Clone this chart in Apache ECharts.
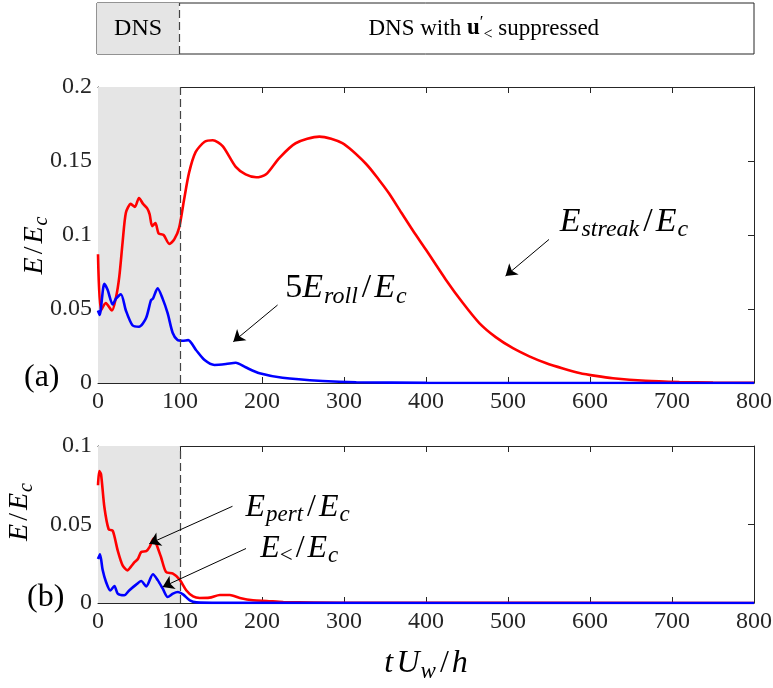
<!DOCTYPE html>
<html>
<head>
<meta charset="utf-8">
<script src="https://cdn.jsdelivr.net/npm/echarts@6/dist/echarts.min.js"></script>
<style>
  html, body { margin: 0; padding: 0; background: #fff; }
  #chart { width: 773px; height: 688px; }
</style>
</head>
<body>
<div id="chart"></div>
<script>
// panel (a): streak energy and 5 x roll energy
const tStreak = [0, 3.5, 9.5, 17, 22, 26, 30, 34, 40, 45, 50, 55, 60, 63, 66, 70, 74, 80, 87, 93, 99, 105, 111, 119, 130, 140, 152, 168, 180, 193, 205, 221, 241, 270, 298, 327, 343, 355, 370, 384, 400, 424, 445, 465, 485, 506, 526, 546, 567, 587, 607, 628, 668, 709, 750, 800]
const streak = [0.087, 0.049, 0.054, 0.049, 0.058, 0.072, 0.095, 0.115, 0.121, 0.119, 0.125, 0.121, 0.118, 0.114, 0.106, 0.108, 0.101, 0.100, 0.094, 0.097, 0.105, 0.124, 0.142, 0.156, 0.163, 0.164, 0.160, 0.146, 0.141, 0.139, 0.141, 0.152, 0.162, 0.1665, 0.162, 0.148, 0.137, 0.128, 0.115, 0.103, 0.090, 0.070, 0.054, 0.0405, 0.031, 0.0235, 0.018, 0.0135, 0.0098, 0.0068, 0.0048, 0.0032, 0.0015, 0.0007, 0.0003, 0.0001]
const tRoll = [0, 2, 7.7, 11.7, 17.9, 21.9, 28, 34, 42, 50, 58.5, 64.6, 67, 72.7, 78.8, 85, 91, 97, 103, 110, 119.5, 130, 142, 156, 168, 180, 197, 225, 274, 315, 400, 500, 800]
const roll = [0.049, 0.046, 0.067, 0.063, 0.053, 0.057, 0.060, 0.049, 0.039, 0.038, 0.0437, 0.056, 0.057, 0.064, 0.057, 0.047, 0.034, 0.029, 0.0285, 0.029, 0.0223, 0.0155, 0.0122, 0.0128, 0.0137, 0.0106, 0.0066, 0.0036, 0.0014, 0.0005, 0.0001, 0, 0]

// panel (b): perturbation energy and small-scale energy
const tPert = [0, 1.6, 3.7, 7.8, 13, 18, 24, 30, 36, 40, 44.5, 48.6, 52.7, 58.8, 63, 67.8, 71, 77, 83, 91.4, 99.6, 107.8, 116, 124, 136, 148.6, 160.8, 173, 189, 205.7, 226, 300, 800]
const pert = [0.075, 0.084, 0.082, 0.061, 0.047, 0.046, 0.0335, 0.024, 0.0208, 0.023, 0.026, 0.028, 0.0325, 0.033, 0.0357, 0.041, 0.0378, 0.029, 0.0197, 0.0187, 0.0149, 0.008, 0.0042, 0.0032, 0.0034, 0.0051, 0.0051, 0.0032, 0.0017, 0.0013, 0.0006, 0.0002, 0]
const tSmall = [0, 2.4, 5.7, 9.8, 15, 20, 24, 32, 38, 46.5, 52.7, 58.8, 67, 73, 79, 85, 91.4, 97.5, 103.7, 112, 120, 150, 800]
const small = [0.028, 0.031, 0.021, 0.0134, 0.008, 0.0108, 0.006, 0.0049, 0.008, 0.0117, 0.014, 0.0106, 0.0183, 0.0144, 0.0091, 0.0038, 0.006, 0.007, 0.0055, 0.0017, 0.0004, 0.0001, 0]

const dnsEnd = 100
const tMax = 800

const serif = "'Liberation Serif', 'DejaVu Serif', serif"
const ink = '#262626'

const xy = (ts, vs) => ts.map((t, i) => [t, vs[i]])

const mathRich = (big, sub) => ({
  i: { fontFamily: serif, fontStyle: 'italic', fontSize: big, color: '#000', lineHeight: big + 6, verticalAlign: 'middle' },
  n: { fontFamily: serif, fontSize: big, color: '#000', lineHeight: big + 6, verticalAlign: 'middle' },
  sl: { fontFamily: serif, fontSize: big, color: '#000', lineHeight: big + 6, verticalAlign: 'middle', padding: [0, 3, 0, 3] },
  s: { fontFamily: serif, fontStyle: 'italic', fontSize: sub, color: '#000', verticalAlign: 'bottom', padding: [0, 1, 0, 1] },
  sn: { fontFamily: serif, fontSize: sub, color: '#000', verticalAlign: 'bottom' }
})

const textMark = (coord, text, size) => ({
  coord,
  value: 0,
  label: { formatter: text, rich: mathRich(size, Math.round(size * 0.72)) }
})

const arrow = (from, to) => [{ coord: from }, { coord: to }]

const shade = (xi, yi) => ({
  type: 'line', xAxisIndex: xi, yAxisIndex: yi, data: [], z: -1, silent: true,
  markArea: { silent: true, itemStyle: { color: '#e5e5e5' }, data: [[{ xAxis: 0 }, { xAxis: dnsEnd }]] },
  markLine: {
    silent: true, symbol: 'none', label: { show: false },
    lineStyle: { color: '#444', type: [8, 4], width: 1.2 },
    data: [{ xAxis: dnsEnd }]
  }
})

const annot = (xi, yi, texts, arrows) => ({
  type: 'line', xAxisIndex: xi, yAxisIndex: yi, data: [], z: 5, silent: true,
  markPoint: {
    silent: true, symbol: 'circle', symbolSize: 1,
    itemStyle: { color: 'rgba(0,0,0,0)' },
    label: { show: true, position: 'inside' },
    data: texts
  },
  markLine: {
    silent: true, symbol: ['none', 'arrow'], symbolSize: 11, label: { show: false },
    lineStyle: { color: '#000', type: 'solid', width: 1 },
    data: arrows
  }
})

const curve = (xi, yi, data, color) => ({
  type: 'line', xAxisIndex: xi, yAxisIndex: yi, data, z: 3,
  showSymbol: false, smooth: 0.25,
  lineStyle: { color, width: 2.6 }, itemStyle: { color }
})

const tickAxis = (grid, pos, extra) => Object.assign({
  gridIndex: grid, position: pos, type: 'value',
  axisLine: { show: true, onZero: false, lineStyle: { color: ink, width: 1 } },
  axisTick: { show: true, inside: true, length: 6, lineStyle: { color: ink } },
  axisLabel: { show: false },
  splitLine: { show: false },
  nameMoveOverlap: false
}, extra)

const xBase = { min: 0, max: tMax, interval: 100 }
const xLabels = { show: true, fontFamily: serif, fontSize: 24, color: ink, margin: 7 }
const yLabels = { show: true, fontFamily: serif, fontSize: 24, color: ink, margin: 6 }
const yName = '{i|E}{sl|/}{i|E}{s|c}'

const chart = echarts.init(document.getElementById('chart'))
chart.setOption({
  animation: false,
  backgroundColor: '#fff',
  grid: [
    { left: 97, right: 19, top: 3, height: 51, show: true, borderColor: ink, borderWidth: 1, backgroundColor: 'transparent', outerBoundsMode: 'none' },
    { left: 98, right: 19, top: 87, height: 296, outerBoundsMode: 'none' },
    { left: 98, right: 19, top: 446, height: 157, outerBoundsMode: 'none' }
  ],
  xAxis: [
    { gridIndex: 0, type: 'value', min: 0, max: tMax, show: false },
    tickAxis(1, 'bottom', Object.assign({ axisLabel: xLabels }, xBase)),
    tickAxis(1, 'top', xBase),
    tickAxis(2, 'bottom', Object.assign({
      axisLabel: xLabels,
      name: '{i|t} {i|U}{s|w}{sl|/}{i|h}', nameLocation: 'middle', nameGap: 42,
      nameTextStyle: { rich: mathRich(32, 23) }
    }, xBase)),
    tickAxis(2, 'top', xBase)
  ],
  yAxis: [
    { gridIndex: 0, type: 'value', min: 0, max: 1, show: false },
    tickAxis(1, 'left', {
      min: 0, max: 0.2, interval: 0.05, axisLabel: yLabels,
      name: yName, nameLocation: 'middle', nameGap: 46, nameRotate: 90,
      nameTextStyle: { rich: mathRich(28, 20), padding: [0, 20, 0, 0] }
    }),
    tickAxis(1, 'right', { min: 0, max: 0.2, interval: 0.05 }),
    tickAxis(2, 'left', {
      min: 0, max: 0.1, interval: 0.05, axisLabel: yLabels,
      name: yName, nameLocation: 'middle', nameGap: 61, nameRotate: 90,
      nameTextStyle: { rich: mathRich(28, 20), padding: [0, 0, 0, 26] }
    }),
    tickAxis(2, 'right', { min: 0, max: 0.1, interval: 0.05 })
  ],
  series: [
    // banner
    Object.assign(shade(0, 0), {
      markPoint: {
        silent: true, symbol: 'circle', symbolSize: 1,
        itemStyle: { color: 'rgba(0,0,0,0)' },
        label: { show: true, position: 'inside' },
        data: [
          { coord: [dnsEnd / 2, 0.5], value: 0, label: { formatter: '{n|DNS}', rich: mathRich(24, 17) } },
          {
            coord: [471, 0.5], value: 0, label: {
              formatter: '{n|DNS with }{b|u}{p|′}{sn|<}{n| suppressed}',
              rich: Object.assign(mathRich(23, 16), {
                b: { fontFamily: serif, fontWeight: 'bold', fontSize: 23, color: '#000', verticalAlign: 'middle' },
                p: { fontFamily: serif, fontSize: 17, color: '#000', verticalAlign: 'top' }
              })
            }
          }
        ]
      }
    }),
    // panel (a)
    shade(1, 1),
    curve(1, 1, xy(tStreak, streak), '#ff0000'),
    curve(1, 1, xy(tRoll, roll), '#0000ff'),
    annot(1, 1, [
      textMark([642, 0.109], '{i|E}{s|streak}{sl|/}{i|E}{s|c}', 34),
      textMark([303, 0.064], '{n|5}{i|E}{s|roll}{sl|/}{i|E}{s|c}', 34)
    ], [
      arrow([550, 0.097], [497, 0.0723]),
      arrow([219, 0.0527], [165, 0.0279])
    ]),
    // panel (b)
    shade(3, 3),
    curve(3, 3, xy(tPert, pert), '#ff0000'),
    curve(3, 3, xy(tSmall, small), '#0000ff'),
    annot(3, 3, [
      textMark([244, 0.061], '{i|E}{s|pert}{sl|/}{i|E}{s|c}', 32),
      textMark([246, 0.0348], '{i|E}{sn|<}{sl|/}{i|E}{s|c}', 32)
    ], [
      arrow([164, 0.0616], [62.6, 0.0378]),
      arrow([180.5, 0.0347], [78.8, 0.0102])
    ])
  ],
  graphic: [
    { type: 'text', left: 24, top: 362, style: { text: '(a)', font: `32px ${serif}`, fill: '#000' } },
    { type: 'text', left: 27, top: 582, style: { text: '(b)', font: `32px ${serif}`, fill: '#000' } }
  ]
})

window.addEventListener('resize', () => chart.resize())
</script>
</body>
</html>
